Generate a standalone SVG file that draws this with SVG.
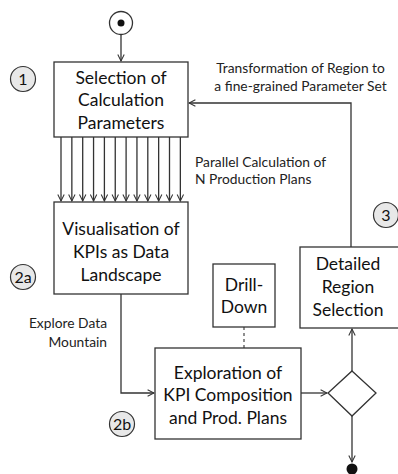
<svg xmlns="http://www.w3.org/2000/svg" width="398" height="474" viewBox="0 0 398 474">
<defs>
<style>
.box{fill:#fff;stroke:#333;stroke-width:1.3}
.num{fill:#e8e8e8;stroke:#333;stroke-width:1.2}
.t{font-family:Lato,"Liberation Sans",sans-serif;font-size:17.5px;fill:#111;text-anchor:middle}
.s{font-family:Lato,"Liberation Sans",sans-serif;font-size:13.8px;fill:#222}
.n{font-family:Lato,"Liberation Sans",sans-serif;font-size:16px;fill:#111;text-anchor:middle}
.c{fill:none;stroke:#333;stroke-width:1.3}
.d{fill:none;stroke:#333;stroke-width:1.1;stroke-dasharray:3,3}
</style>
<marker id="a" viewBox="0 0 10 10" refX="9" refY="5" markerWidth="8" markerHeight="8" markerUnits="userSpaceOnUse" orient="auto">
<path d="M1,1 L9,5 L1,9" fill="none" stroke="#333" stroke-width="1.3"/>
</marker>
</defs>
<g id="start"><circle cx="121" cy="23" r="11.5" class="box"/><circle cx="121" cy="23" r="3.5" fill="#111"/></g>
<g id="connectors">
<line x1="121" y1="34.5" x2="121" y2="61" class="c" marker-end="url(#a)"/>
<line x1="61" y1="137" x2="61" y2="201" class="c" marker-end="url(#a)"/>
<line x1="71.85" y1="137" x2="71.85" y2="201" class="c" marker-end="url(#a)"/>
<line x1="82.7" y1="137" x2="82.7" y2="201" class="c" marker-end="url(#a)"/>
<line x1="93.55" y1="137" x2="93.55" y2="201" class="c" marker-end="url(#a)"/>
<line x1="104.4" y1="137" x2="104.4" y2="201" class="c" marker-end="url(#a)"/>
<line x1="115.25" y1="137" x2="115.25" y2="201" class="c" marker-end="url(#a)"/>
<line x1="126.1" y1="137" x2="126.1" y2="201" class="c" marker-end="url(#a)"/>
<line x1="136.95" y1="137" x2="136.95" y2="201" class="c" marker-end="url(#a)"/>
<line x1="147.8" y1="137" x2="147.8" y2="201" class="c" marker-end="url(#a)"/>
<line x1="158.65" y1="137" x2="158.65" y2="201" class="c" marker-end="url(#a)"/>
<line x1="169.5" y1="137" x2="169.5" y2="201" class="c" marker-end="url(#a)"/>
<line x1="180.35" y1="137" x2="180.35" y2="201" class="c" marker-end="url(#a)"/>
<polyline points="351,247 351,103 189,103" class="c" marker-end="url(#a)"/>
<polyline points="121,294 121,393 154,393" class="c" marker-end="url(#a)"/>
<line x1="244" y1="327" x2="244" y2="348" class="d"/>
<line x1="301" y1="393" x2="327" y2="393" class="c" marker-end="url(#a)"/>
<line x1="352" y1="371" x2="352" y2="329" class="c" marker-end="url(#a)"/>
<line x1="352" y1="416" x2="352" y2="462" class="c" marker-end="url(#a)"/>
</g>
<g id="n1"><rect x="54" y="62" width="134" height="75" class="box"/>
<text class="t" x="121" y="84">Selection of</text><text class="t" x="121" y="106">Calculation</text><text class="t" x="121" y="129">Parameters</text></g>
<g id="n2a"><rect x="54" y="202" width="134" height="92" class="box"/>
<text class="t" x="121" y="235">Visualisation of</text><text class="t" x="121" y="258">KPIs as Data</text><text class="t" x="121" y="281">Landscape</text></g>
<g id="n3"><rect x="300" y="247" width="99" height="81" class="box"/>
<text class="t" x="348" y="270">Detailed</text><text class="t" x="348" y="293">Region</text><text class="t" x="348" y="316">Selection</text></g>
<g id="drill"><rect x="213" y="264" width="62" height="63" class="box"/>
<text class="t" x="244" y="291">Drill-</text><text class="t" x="244" y="313">Down</text></g>
<g id="n2b"><rect x="155" y="348" width="146" height="91" class="box"/>
<text class="t" x="228" y="379">Exploration of</text><text class="t" x="228" y="401">KPI Composition</text><text class="t" x="228" y="424">and Prod. Plans</text></g>
<g id="decision"><polygon points="352,371 376,393 352,416 328,393" class="box"/></g>
<g id="end"><circle cx="352" cy="469" r="5.5" fill="#111"/></g>
<g id="labels">
<text class="s" x="300.5" y="73" text-anchor="middle">Transformation of Region to</text>
<text class="s" x="300.5" y="91" text-anchor="middle">a fine-grained Parameter Set</text>
<text class="s" x="195" y="167">Parallel Calculation of</text>
<text class="s" x="195" y="184">N Production Plans</text>
<text class="s" x="107" y="328" text-anchor="end">Explore Data</text>
<text class="s" x="107" y="347" text-anchor="end">Mountain</text>
</g>
<g id="num1"><circle cx="23" cy="79" r="12.5" class="num"/><text class="n" x="23" y="85">1</text></g>
<g id="num2a"><circle cx="23" cy="277" r="12.5" class="num"/><text class="n" x="23" y="283">2a</text></g>
<g id="num2b"><circle cx="122" cy="424" r="12.5" class="num"/><text class="n" x="122" y="430">2b</text></g>
<g id="num3"><circle cx="386" cy="215" r="12.5" class="num"/><text class="n" x="386" y="221">3</text></g>
</svg>
